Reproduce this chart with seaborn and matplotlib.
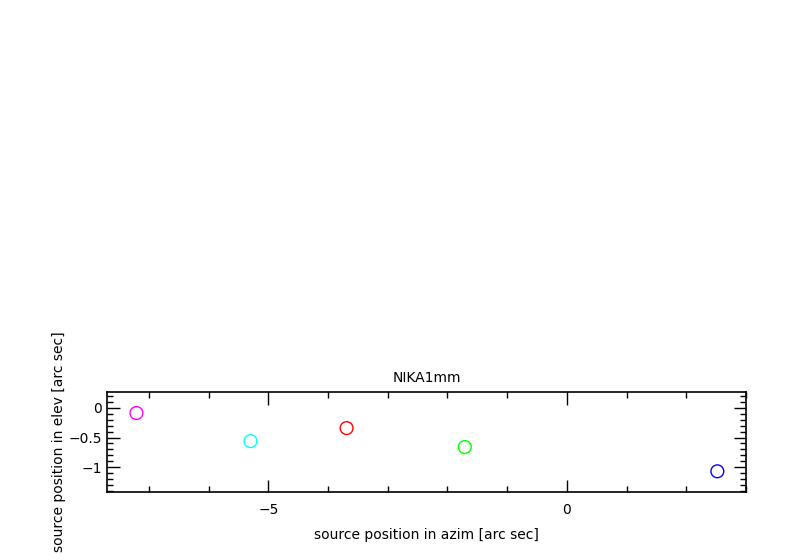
import pandas as pd
import matplotlib
matplotlib.use("Agg")
import matplotlib.pyplot as plt
import seaborn as sns
from matplotlib.ticker import MultipleLocator

# === Data ===
azim = [-7.21, -5.30, -3.69, -1.71, 2.52]
elev = [-0.085, -0.56, -0.34, -0.66, -1.07]
scan = ["s1", "s2", "s3", "s4", "s5"]
colors = ["magenta", "cyan", "red", "lime", "blue"]

df = pd.DataFrame({"azim": azim, "elev": elev, "scan": scan})

sns.set_style("white")
plt.rcParams["font.family"] = ["DejaVu Sans"]
plt.rcParams["text.color"] = "black"
plt.rcParams["axes.labelcolor"] = "black"
plt.rcParams["xtick.color"] = "black"
plt.rcParams["ytick.color"] = "black"

fig = plt.figure(figsize=(8, 5.6), dpi=100)
ax = fig.add_axes([0.134, 0.1214, 0.7985, 0.1786])

for s, c in zip(scan, colors):
    sub = df[df["scan"] == s]
    sns.scatterplot(data=sub, x="azim", y="elev", ax=ax, s=85,
                    facecolors="none", edgecolor=c, linewidth=1.0,
                    legend=False)

ax.set_xlim(-7.7, 3.0)
ax.set_ylim(-1.42, 0.27)
ax.xaxis.set_major_locator(MultipleLocator(5))
ax.xaxis.set_minor_locator(MultipleLocator(1))
ax.yaxis.set_major_locator(MultipleLocator(0.5))
ax.yaxis.set_minor_locator(MultipleLocator(0.1))
ax.tick_params(which="both", direction="in", top=True, right=True,
               bottom=True, left=True, labelsize=10, color="black")
ax.tick_params(which="major", length=9, width=1)
ax.tick_params(which="minor", length=4, width=1)
for sp in ax.spines.values():
    sp.set_color("black")
    sp.set_linewidth(1.2)

ax.set_yticks([0, -0.5, -1])
ax.set_yticklabels(["0", "\u22120.5", "\u22121"])
ax.set_xticks([-5, 0])
ax.set_xticklabels(["\u22125", "0"])
ax.tick_params(axis="x", pad=8)

ax.set_title("NIKA1mm", fontsize=10, pad=7)
ax.set_xlabel("source position in azim [arc sec]", fontsize=10, labelpad=8)
ax.set_ylabel("source position in elev [arc sec]", fontsize=10, labelpad=2)

fig.savefig("out.png", dpi=100)
